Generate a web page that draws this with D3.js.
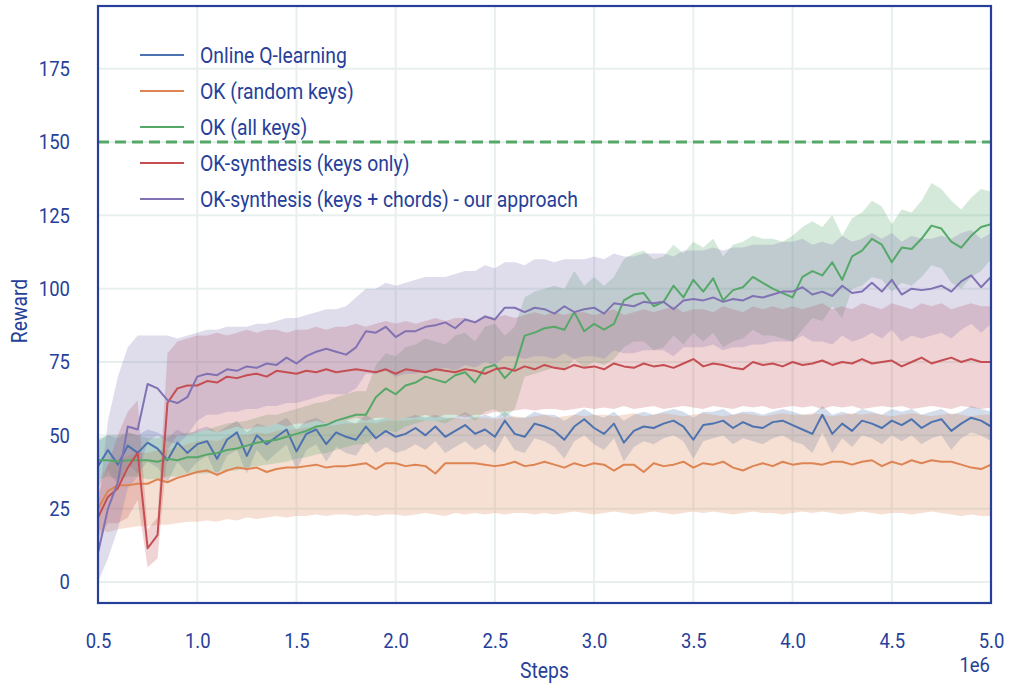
<!DOCTYPE html>
<html>
<head>
<meta charset="utf-8">
<script src="https://cdn.jsdelivr.net/npm/d3@7"></script>
<style>
  html, body { margin: 0; padding: 0; background: #ffffff; }
  svg { display: block; }
</style>
</head>
<body>
<svg id="chart" width="1009" height="685"></svg>
<script>
// ---- training steps (one sample every 50k steps, 0.5M .. 5.0M) ----
const steps = d3.range(91).map(i => 500000 + 50000 * i);

const xTicks = [500000, 1000000, 1500000, 2000000, 2500000, 3000000, 3500000, 4000000, 4500000, 5000000];
const xTickLabels = ["0.5", "1.0", "1.5", "2.0", "2.5", "3.0", "3.5", "4.0", "4.5", "5.0"];
const yTicks = [0, 25, 50, 75, 100, 125, 150, 175];
const targetReward = 150;

const seriesNames = [
  "Online Q-learning",
  "OK (random keys)",
  "OK (all keys)",
  "OK-synthesis (keys only)",
  "OK-synthesis (keys + chords) - our approach"
];

// ---- Online Q-learning ----
const qMean = [
  39.5, 45, 40, 46.5, 44, 47.5, 45.5, 41.5, 47.5, 44, 47,
  48, 42, 48.5, 51, 43, 50, 47, 49.5, 52, 44.5,
  50.5, 52, 47, 51, 49.5, 48.5, 53, 49, 51.5, 49.5,
  50.5, 52.5, 50, 53, 49.5, 51.5, 53.5, 50.5, 52, 49.5,
  55, 50.5, 49.5, 54, 53, 51.5, 48.5, 53, 55.5, 52.5,
  50.5, 54, 47.5, 51.5, 53, 52.5, 54, 55, 53, 48.5,
  53.5, 54, 55, 52.5, 54.5, 53, 52.5, 54.5, 55, 53.5,
  52, 50.5, 57, 50.5, 54, 51.5, 55, 54, 52.5, 55,
  53.5, 55.5, 52.5, 54.5, 55.5, 51.5, 54, 56, 55, 53
];
const qLo = [
  32, 38, 33, 40, 37, 41, 39, 34, 41, 37, 41,
  43, 36, 43, 45, 37, 45, 41, 44, 47, 38,
  45, 47, 41, 46, 44, 43, 48, 44, 46, 44,
  45, 47, 45, 48, 44, 46, 48, 45, 47, 44,
  50, 45, 44, 49, 48, 46, 42, 48, 50, 47,
  45, 49, 41, 46, 48, 47, 49, 50, 48, 42,
  48, 49, 50, 47, 49, 48, 47, 49, 50, 48,
  47, 44, 51, 44, 49, 46, 50, 49, 47, 50,
  48, 50, 47, 49, 50, 45, 49, 51, 50, 48
];
const qHi = [
  48, 50, 49, 51, 50, 52, 51, 49, 52, 50, 52,
  53, 51, 53, 55, 51, 54, 53, 54, 56, 52,
  55, 56, 54, 55, 55, 54, 57, 55, 56, 55,
  56, 57, 56, 57, 56, 56, 58, 56, 57, 56,
  58, 56, 56, 58, 57, 57, 55, 57, 59, 57,
  56, 58, 55, 57, 58, 57, 58, 59, 58, 56,
  58, 58, 59, 57, 58, 58, 57, 58, 59, 58,
  57, 57, 60, 57, 58, 57, 59, 58, 57, 59,
  58, 59, 57, 58, 59, 57, 58, 60, 59, 58
];

// ---- OK (random keys) ----
const randMean = [
  25, 31, 33, 33, 33.5, 33.5, 35, 34, 35.5, 36.5, 37.5,
  38, 36.5, 38, 39, 38.5, 39, 37.5, 38.5, 39, 39,
  39.5, 40, 39, 39.5, 39.5, 40, 40.5, 38.5, 40.5, 40.5,
  39.5, 40, 39.5, 37, 40.5, 40.5, 40.5, 40.5, 40, 39.5,
  40, 41, 39.5, 40, 41, 40, 39, 40.5, 39.5, 40.5,
  40, 38, 40, 40, 37.5, 40.5, 39.5, 40, 41, 39,
  40.5, 40, 41, 39, 38, 39.5, 40.5, 39.5, 41, 40,
  40.5, 40.5, 40, 41, 41, 40, 41, 41.5, 39.5, 41,
  40, 41.5, 40.5, 41.5, 41, 41, 40, 39, 38.5, 40
];
const randLo = [
  18, 17, 18, 18.5, 19, 19, 19.5, 19.5, 20, 20.5, 20.5,
  21, 20.5, 21.5, 21, 22, 21.5, 22, 22.5, 22, 22.5,
  22.5, 23, 22.5, 23, 23, 22.5, 23, 22.5, 23, 23,
  22.5, 23, 23.5, 23, 22.5, 23.5, 23, 23.5, 23, 23.5,
  23, 23.5, 23.5, 23, 23.5, 23, 23.5, 24, 23.5, 23,
  23.5, 24, 23.5, 23, 23.5, 24, 23.5, 23, 23.5, 24,
  23.5, 24, 23.5, 23, 23.5, 24, 23.5, 23.5, 23, 23.5,
  24, 23.5, 24, 23.5, 23, 23.5, 24, 23.5, 23, 23.5,
  23.5, 23, 23.5, 24, 23.5, 23, 22.5, 23, 22.5, 22.5
];
const randHi = [
  34, 40, 42, 43, 44, 44, 45, 45, 46, 47, 48,
  48.5, 48, 49.5, 50, 50, 51, 50.5, 51.5, 52, 52,
  52.5, 53, 53, 53.5, 54, 54, 54.5, 54, 55, 55,
  55, 55.5, 55, 55, 55.5, 56, 55.5, 56, 56, 55.5,
  56, 56.5, 56, 56.5, 57, 56, 56.5, 57, 56.5, 57,
  57, 56.5, 57, 57.5, 56.5, 57, 57.5, 57, 56.5, 57,
  57.5, 57, 56.5, 57, 57.5, 57, 56.5, 57, 57.5, 57,
  57, 57.5, 57, 56.5, 57, 57.5, 57, 57.5, 57, 56.5,
  57, 57.5, 57, 56.5, 57, 57.5, 57, 56.5, 57, 57
];

// ---- OK (all keys) ----
const allMean = [
  41.5, 41.5, 41, 41.5, 41.5, 41.5, 41, 42, 41.5, 42.5, 42.5,
  43.5, 44, 45, 45.5, 46.5, 47.5, 48, 48.5, 49.5, 50.5,
  51.5, 53, 53.5, 55, 56, 57, 57, 63, 66, 64,
  67, 68, 70, 69, 68, 70.5, 71.5, 68, 73, 74,
  69.5, 73, 84, 85, 86.5, 87, 86, 92, 85.5, 88,
  86, 88, 96, 98, 98.5, 94, 95.5, 101, 97, 103,
  99, 103.5, 96, 99.5, 100.5, 104, 102, 100, 98.5, 97,
  104, 106, 104.5, 109, 103, 111, 113, 117, 115, 109,
  114, 113.5, 117, 121.5, 120.5, 116, 114, 118, 121, 122
];
const allLo = [
  35, 36, 35, 36, 36, 35, 35, 36, 36, 37, 37,
  37, 37.5, 38, 38, 39, 39.5, 40, 40.5, 41, 42,
  42.5, 43.5, 44, 45, 46, 47, 47, 50, 52, 51,
  53, 54, 55, 55, 54, 56, 57, 55, 58, 59,
  56, 59, 70, 71, 72, 73, 72, 76, 73, 75,
  74, 76, 80, 82, 82, 79, 80, 84, 81, 85,
  82, 85, 80, 82, 83, 86, 84, 84, 83, 82,
  86, 90, 89, 94, 90, 100, 101, 104, 103, 99,
  102, 101, 104, 108, 107, 102, 100, 104, 106, 110
];
const allHi = [
  49, 50, 50, 51, 50, 49, 49, 50, 50, 51, 51,
  52, 53, 54, 54.5, 55, 56, 57, 57, 58, 59,
  60, 61, 61.5, 63, 64, 65, 65, 74, 78, 77,
  80, 81, 83, 82, 81, 84, 85, 82, 87, 88,
  84, 87, 97, 99, 100, 101, 100, 106, 101, 104,
  101, 104, 110, 112, 113, 110, 111, 115, 112, 116,
  114, 117, 111, 115, 116, 118, 117, 117, 116, 118,
  121, 123, 121, 125, 118, 124, 126, 130, 128, 122,
  127, 126, 130, 136, 134, 130, 127, 131, 134, 133
];

// ---- OK-synthesis (keys only) ----
const synthMean = [
  22, 29, 32, 39, 44, 11.5, 16, 61, 66, 67, 67,
  68.5, 68, 70, 69.5, 70.5, 71, 70, 72, 71.5, 71,
  72, 71.5, 72.5, 71.5, 72, 72.5, 72, 71.5, 72.5, 71,
  72.5, 72, 71.5, 72.5, 72, 71.5, 72.5, 72, 71, 72.5,
  73, 72, 73.5, 72.5, 74, 73, 72.5, 74, 73, 73.5,
  72.5, 74.5, 73.5, 73, 74.5, 73.5, 74, 73, 74.5, 76,
  73.5, 74.5, 74, 73, 72.5, 75, 74, 74.5, 73.5, 75,
  74, 74.5, 75.5, 74, 75, 74.5, 76, 74.5, 75, 75.5,
  73.5, 75, 76.5, 74.5, 75.5, 76.5, 75, 76, 75, 75
];
const synthLo = [
  15, 20, 20, 22, 28, 5, 8, 45, 50, 50, 51,
  52, 51, 52, 53, 52, 53, 53, 54, 53, 54,
  54, 55, 54, 55, 55, 56, 55, 56, 56, 55,
  56, 56, 57, 56, 57, 57, 56, 57, 57, 58,
  58, 58.5, 59, 58.5, 59, 59, 58.5, 59, 59.5, 59,
  59.5, 59, 60, 59, 59.5, 60, 59, 59.5, 60, 59.5,
  59, 60, 59.5, 59, 60, 59.5, 60, 59, 59.5, 60,
  59.5, 60, 59, 60, 59.5, 60, 59, 59.5, 60, 59.5,
  60, 59, 59.5, 60, 59.5, 59, 60, 59.5, 59, 59.5
];
const synthHi = [
  30, 40, 50, 58, 62, 18, 22, 78, 82, 83, 84,
  84, 85, 84, 85, 86, 85, 86, 86, 85, 86,
  86, 87, 86, 87, 87, 88, 87, 88, 89, 88,
  89, 88, 89, 90, 89, 90, 90, 89, 91, 90,
  91, 90, 91, 92, 91, 92, 91, 92, 92, 91,
  92, 93, 91, 92, 93, 92, 93, 94, 92, 93,
  93, 92, 94, 93, 92, 94, 93, 94, 93, 94,
  93, 94, 95, 93, 94, 93, 95, 94, 93, 95,
  94, 93, 95, 94, 95, 93, 94, 95, 94, 94
];

// ---- OK-synthesis (keys + chords) ----
const chordMean = [
  10, 25, 34, 53, 52, 67.5, 66, 62, 61, 63, 70,
  71, 70.5, 72.5, 72, 73.5, 73, 74.5, 74, 76.5, 74.5,
  77, 78.5, 79.5, 78.5, 77.5, 80, 85.5, 85, 87, 83.5,
  85.5, 85.5, 87, 87.5, 88.5, 86.5, 89.5, 88.5, 90.5, 89.5,
  93.5, 93.5, 92, 93.5, 93, 91.5, 94, 92, 93, 93.5,
  91.5, 95, 94.5, 94, 95.5, 95, 95.5, 93, 96, 96.5,
  96, 97, 95.5, 96.5, 96, 97.5, 97, 98, 99, 99,
  100.5, 98, 99, 97.5, 101, 98.5, 99, 102, 99, 103,
  98, 100, 99.5, 100, 101, 99, 102.5, 104.5, 100.5, 104
];
const chordLo = [
  0, 8, 18, 32, 36, 48, 50, 48, 47, 50, 55,
  57, 57, 58, 58, 59, 59, 60, 60, 61, 61,
  62, 63, 64, 64, 64, 66, 71, 71, 72, 70,
  71, 71, 72, 72, 73, 72, 74, 73, 75, 74,
  77, 77, 76, 77, 77, 76, 78, 76, 77, 77,
  76, 79, 78, 78, 79, 79, 79, 77, 80, 80,
  80, 81, 79, 80, 80, 81, 81, 82, 82, 82,
  84, 82, 82, 81, 84, 82, 83, 85, 83, 86,
  82, 84, 83, 84, 85, 83, 86, 88, 85, 88
];
const chordHi = [
  25, 55, 70, 80, 84, 84, 84, 84, 83, 84, 85,
  86, 86, 87, 87, 87, 88, 88, 89, 90, 90,
  91, 92, 93, 93, 94, 97, 100, 100, 102, 101,
  102, 103, 104, 104, 104, 105, 106, 106, 108, 107,
  109, 109, 108, 110, 110, 109, 110, 110, 110, 111,
  110, 112, 111, 111, 112, 112, 112, 111, 113, 113,
  113, 114, 113, 114, 114, 115, 115, 115, 116, 116,
  117, 115, 116, 115, 118, 116, 117, 119, 117, 119,
  116, 118, 117, 117, 118, 117, 119, 120, 117, 119
];

const palette = ["#4c72b0", "#dd8452", "#55a868", "#c44e52", "#8172b3"];

const series = [
  { name: seriesNames[0], color: palette[0], mean: qMean, lo: qLo, hi: qHi },
  { name: seriesNames[1], color: palette[1], mean: randMean, lo: randLo, hi: randHi },
  { name: seriesNames[2], color: palette[2], mean: allMean, lo: allLo, hi: allHi },
  { name: seriesNames[3], color: palette[3], mean: synthMean, lo: synthLo, hi: synthHi },
  { name: seriesNames[4], color: palette[4], mean: chordMean, lo: chordLo, hi: chordHi }
];

// ---- layout ----
const frame = { left: 98, right: 991, top: 6, bottom: 603 };
const ink = "#26409a";
const gridColor = "#e8f0ee";
const font = "Roboto, 'Liberation Sans', sans-serif";
const squeeze = 0.88;   // narrow glyphs, condensed look

const x = d3.scaleLinear().domain([500000, 5000000]).range([frame.left, frame.right]);
const y = d3.scaleLinear().domain([-7.16, 196.36]).range([frame.bottom, frame.top]);

const svg = d3.select("#chart");

svg.append("defs").append("clipPath").attr("id", "plot-clip")
  .append("rect")
  .attr("x", frame.left).attr("y", frame.top)
  .attr("width", frame.right - frame.left).attr("height", frame.bottom - frame.top);

// grid
const grid = svg.append("g");
grid.selectAll("line.gx").data(xTicks).join("line")
  .attr("x1", d => x(d)).attr("x2", d => x(d))
  .attr("y1", frame.top).attr("y2", frame.bottom)
  .attr("stroke", gridColor).attr("stroke-width", 2);
grid.selectAll("line.gy").data(yTicks).join("line")
  .attr("x1", frame.left).attr("x2", frame.right)
  .attr("y1", d => y(d)).attr("y2", d => y(d))
  .attr("stroke", gridColor).attr("stroke-width", 2);

const plot = svg.append("g").attr("clip-path", "url(#plot-clip)");

// confidence bands (below every line)
const area = d3.area()
  .x((d, i) => x(steps[i]))
  .y0(d => y(d[0]))
  .y1(d => y(d[1]));

series.forEach(s => {
  const pts = s.lo.map((v, i) => [v, s.hi[i]]);
  plot.append("path")
    .datum(pts)
    .attr("d", area)
    .attr("fill", s.color)
    .attr("fill-opacity", 0.25)
    .attr("stroke", "none");
});

// mean curves
const line = d3.line()
  .x((d, i) => x(steps[i]))
  .y(d => y(d));

series.forEach(s => {
  plot.append("path")
    .datum(s.mean)
    .attr("d", line)
    .attr("fill", "none")
    .attr("stroke", s.color)
    .attr("stroke-width", 2)
    .attr("stroke-linejoin", "round");
});

// target reward
plot.append("line")
  .attr("x1", frame.left).attr("x2", frame.right)
  .attr("y1", y(targetReward)).attr("y2", y(targetReward))
  .attr("stroke", palette[2])
  .attr("stroke-width", 3)
  .attr("stroke-dasharray", "11,6");

// frame
svg.append("rect")
  .attr("x", frame.left).attr("y", frame.top)
  .attr("width", frame.right - frame.left).attr("height", frame.bottom - frame.top)
  .attr("fill", "none").attr("stroke", ink).attr("stroke-width", 2.2);

// axes
const xAxis = svg.append("g")
  .attr("transform", `translate(0,${frame.bottom})`)
  .call(d3.axisBottom(x).tickValues(xTicks)
    .tickFormat((d, i) => xTickLabels[i]).tickSize(0).tickPadding(30));
xAxis.select(".domain").remove();
xAxis.selectAll("text")
  .attr("font-family", font).attr("font-size", 21).attr("fill", ink)
  .attr("transform", `scale(${squeeze},1)`);

const yAxis = svg.append("g")
  .attr("transform", `translate(${frame.left},0)`)
  .call(d3.axisLeft(y).tickValues(yTicks).tickSize(0).tickPadding(28));
yAxis.select(".domain").remove();
yAxis.selectAll("text")
  .attr("font-family", font).attr("font-size", 21).attr("fill", ink)
  .attr("x", -28 / squeeze)
  .attr("transform", `scale(${squeeze},1)`);

// text helper with condensed glyphs
function label(tx, ty, str, anchor, size, rotate) {
  svg.append("text")
    .attr("transform", `translate(${tx},${ty})${rotate ? " rotate(" + rotate + ")" : ""} scale(${squeeze},1)`)
    .attr("text-anchor", anchor)
    .attr("font-family", font)
    .attr("font-size", size)
    .attr("fill", ink)
    .text(str);
}

label((frame.left + frame.right) / 2, 678, "Steps", "middle", 22);
label(990, 672, "1e6", "end", 21);
label(27, 311, "Reward", "middle", 22, -90);

// legend
const legend = svg.append("g");
series.forEach((s, i) => {
  const cy = 55 + i * 36;
  legend.append("line")
    .attr("x1", 140).attr("x2", 184)
    .attr("y1", cy).attr("y2", cy)
    .attr("stroke", s.color).attr("stroke-width", 2);
  legend.append("text")
    .attr("transform", `translate(200,${cy + 7.5}) scale(${squeeze},1)`)
    .attr("font-family", font).attr("font-size", 22).attr("fill", ink)
    .text(s.name);
});
</script>
</body>
</html>
